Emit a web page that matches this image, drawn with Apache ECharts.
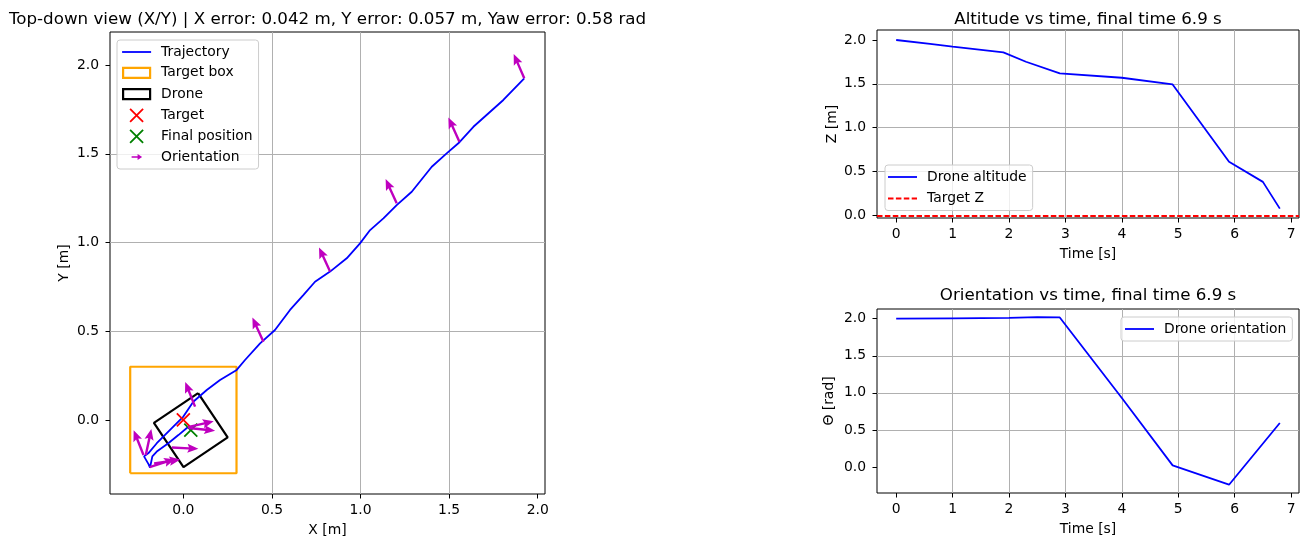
<!DOCTYPE html>
<html>
<head>
<meta charset="utf-8">
<script src="https://cdn.jsdelivr.net/npm/echarts@6/dist/echarts.min.js"></script>
<style>
  html, body { margin: 0; padding: 0; background: #fff; }
  #main { width: 1309px; height: 547px; }
</style>
</head>
<body>
<div id="main"></div>
<script>
// top-down trajectory (m)
var trajX = [1.924, 1.806, 1.637, 1.552, 1.486, 1.402, 1.289, 1.204, 1.129, 1.054, 0.997, 0.922, 0.828, 0.743, 0.677, 0.602, 0.517, 0.433, 0.348, 0.301, 0.207, 0.132, 0.056, 0.0, -0.075, -0.150, -0.198, -0.222, -0.212, -0.196, -0.188, -0.195, -0.184, -0.175, -0.150, -0.085, -0.028, 0.028, 0.042];
var trajY = [1.925, 1.803, 1.652, 1.559, 1.502, 1.427, 1.286, 1.211, 1.136, 1.070, 0.995, 0.911, 0.836, 0.779, 0.704, 0.620, 0.507, 0.432, 0.338, 0.282, 0.225, 0.169, 0.103, 0.019, -0.056, -0.131, -0.188, -0.205, -0.215, -0.250, -0.268, -0.262, -0.270, -0.205, -0.178, -0.131, -0.085, -0.038, -0.057];

// orientation arrows: base (m) and yaw (rad)
var arrowX = [1.924, 1.558, 1.204, 0.828, 0.452, 0.066, -0.225, -0.212, -0.190, -0.165, -0.065, 0.025, 0.030];
var arrowY = [1.925, 1.568, 1.221, 0.836, 0.441, 0.075, -0.197, -0.197, -0.265, -0.245, -0.155, -0.040, -0.045];
var arrowYaw = [1.98, 2.0, 2.0, 2.0, 2.0, 1.95, 1.95, 1.36, 0.30, 0.15, -0.05, 0.22, -0.10];
var arrowLen = 0.15;

var target = [0, 0];
var targetHalf = 0.3;
var finalPos = [0.042, -0.057];
var finalYaw = 0.59;
var droneHalf = 0.15;
var errX = 0.042, errY = 0.057, errYaw = 0.58;
var finalTime = 6.9;

// altitude vs time
var altT = [0, 0.6, 1.0, 1.9, 2.3, 2.9, 4.0, 4.9, 5.9, 6.5, 6.8];
var altZ = [2.0, 1.955, 1.925, 1.859, 1.752, 1.619, 1.569, 1.493, 0.610, 0.381, 0.076];
var targetZ = 0.0;

// orientation vs time
var yawT = [0, 1.0, 2.0, 2.5, 2.9, 4.0, 4.9, 5.9, 6.8];
var yawV = [2.0, 2.005, 2.012, 2.022, 2.017, 0.93, 0.022, -0.239, 0.593];

// tick values
var xyTicks = [0, 0.5, 1.0, 1.5, 2.0];
var timeTicks = [0, 1, 2, 3, 4, 5, 6, 7];

var FONT = 'DejaVu Sans';
var FS = 13.9;

function zip(a, b) { return a.map(function (v, i) { return [v, b[i]]; }); }

var targetBox = [[-1, -1], [1, -1], [1, 1], [-1, 1], [-1, -1]].map(function (c) {
  return [target[0] + c[0] * targetHalf, target[1] + c[1] * targetHalf];
});
var droneBox = [0, 1, 2, 3, 4].map(function (k) {
  var a = finalYaw + Math.PI / 4 + k * Math.PI / 2;
  var r = droneHalf * Math.SQRT2;
  return [finalPos[0] + r * Math.cos(a), finalPos[1] + r * Math.sin(a)];
});
var arrows = arrowX.map(function (x, i) { return [x, arrowY[i], arrowYaw[i]]; });

function renderArrow(params, api) {
  var x = api.value(0), y = api.value(1), a = api.value(2);
  var p0 = api.coord([x, y]);
  var p1 = api.coord([x + arrowLen * Math.cos(a), y + arrowLen * Math.sin(a)]);
  var dx = p1[0] - p0[0], dy = p1[1] - p0[1];
  var L = Math.sqrt(dx * dx + dy * dy);
  var ux = dx / L, uy = dy / L, nx = -uy, ny = ux;
  var sw = 1.2, hw = 4.6, hl = 11, hal = 9.5;
  function pt(al, ac) { return [p0[0] + ux * al + nx * ac, p0[1] + uy * al + ny * ac]; }
  return {
    type: 'polygon',
    shape: { points: [pt(0, -sw), pt(L - hal, -sw), pt(L - hl, -hw), pt(L, 0), pt(L - hl, hw), pt(L - hal, sw), pt(0, sw)] },
    style: { fill: '#bf00bf' }
  };
}

function axis(gi, min, max, name, gap, ticks, digits, isY) {
  return {
    type: 'value', gridIndex: gi, min: min, max: max,
    name: name, nameLocation: 'middle', nameGap: gap,
    nameTextStyle: { color: '#000', fontSize: FS, fontFamily: FONT },
    axisLine: { show: false, onZero: false },
    axisTick: { show: true, inside: false, length: 4.5, customValues: ticks, lineStyle: { color: '#000', width: 1 } },
    axisLabel: { color: '#000', fontSize: FS, fontFamily: FONT, margin: isY ? 11 : 9, customValues: ticks,
      formatter: function (v) { return (+v + 0).toFixed(digits); } },
    splitLine: { show: true, showMinLine: false, showMaxLine: false, lineStyle: { color: '#b0b0b0', width: 1 } }
  };
}

var XSYM = 'path://M0,0L10,10M10,0L0,10';
var XICON = 'path://M0,0M29,13M8,0L21,13M21,0L8,13';
var RECT = 'path://M0,0M29,13M1,1.5L28,1.5L28,11.5L1,11.5Z';
var LINEICON = 'path://M0,0M29,13M0,5.6L29,5.6L29,7.4L0,7.4Z';
var DASHICON = 'path://M0,0M29,13M0,5.6L5.5,5.6L5.5,7.4L0,7.4ZM7.9,5.6L13.4,5.6L13.4,7.4L7.9,7.4ZM15.8,5.6L21.3,5.6L21.3,7.4L15.8,7.4ZM23.7,5.6L29,5.6L29,7.4L23.7,7.4Z';
var ARROWICON = 'path://M0,0M29,13M9.5,5.8L15.5,5.8L15.5,3.5L20,6.5L15.5,9.5L15.5,7.2L9.5,7.2Z';

var legendBase = {
  orient: 'vertical', itemWidth: 29, itemHeight: 13, itemGap: 6.2,
  backgroundColor: 'rgba(255,255,255,0.8)', borderColor: '#cccccc', borderWidth: 1, borderRadius: 3,
  selectedMode: false,
  textStyle: { color: '#000', fontSize: FS, fontFamily: FONT, lineHeight: 13, padding: [0, 0, 0, 5] }
};
function legend(o) { return Object.assign({}, legendBase, o); }
var noFill = 'rgba(0,0,0,0)';

var chart = echarts.init(document.getElementById('main'), null, { renderer: 'canvas' });
chart.setOption({
  animation: false,
  textStyle: { fontFamily: FONT },
  title: [
    { text: 'Top-down view (X/Y) | X error: ' + errX.toFixed(3) + ' m, Y error: ' + errY.toFixed(3) + ' m, Yaw error: ' + errYaw.toFixed(2) + ' rad',
      left: 327.5, top: 11, textAlign: 'center', padding: 0,
      textStyle: { fontSize: 16.7, fontWeight: 'normal', color: '#000', fontFamily: FONT } },
    { text: 'Altitude vs time, final time ' + finalTime.toFixed(1) + ' s',
      left: 1088, top: 11, textAlign: 'center', padding: 0,
      textStyle: { fontSize: 16.7, fontWeight: 'normal', color: '#000', fontFamily: FONT } },
    { text: 'Orientation vs time, final time ' + finalTime.toFixed(1) + ' s',
      left: 1088, top: 287, textAlign: 'center', padding: 0,
      textStyle: { fontSize: 16.7, fontWeight: 'normal', color: '#000', fontFamily: FONT } }
  ],
  legend: [
    legend({ left: 117, top: 40, padding: [5, 6, 5, 4],
      data: [
        { name: 'Trajectory', icon: LINEICON, itemStyle: { color: '#0000ff', borderWidth: 0 } },
        { name: 'Target box', icon: RECT, itemStyle: { color: noFill, borderColor: '#ffa500', borderWidth: 2.2 } },
        { name: 'Drone', icon: RECT, itemStyle: { color: noFill, borderColor: '#000', borderWidth: 2.2 } },
        { name: 'Target', icon: XICON, itemStyle: { color: noFill, borderColor: '#ff0000', borderWidth: 1.8 } },
        { name: 'Final position', icon: XICON, itemStyle: { color: noFill, borderColor: '#008000', borderWidth: 1.8 } },
        { name: 'Orientation', icon: ARROWICON, itemStyle: { color: '#bf00bf', borderWidth: 0 } }
      ] }),
    legend({ left: 885, top: 165, padding: [5, 6, 5, 3], itemGap: 7.5,
      data: [
        { name: 'Drone altitude', icon: LINEICON, itemStyle: { color: '#0000ff', borderWidth: 0 } },
        { name: 'Target Z', icon: DASHICON, itemStyle: { color: '#ff0000', borderWidth: 0 } }
      ] }),
    legend({ left: 1121, top: 317, padding: [5, 6, 5, 4],
      data: [{ name: 'Drone orientation', icon: LINEICON, itemStyle: { color: '#0000ff', borderWidth: 0 } }] })
  ],
  grid: [
    { left: 110, top: 32, width: 435, height: 462, show: true, borderColor: '#000', borderWidth: 1, backgroundColor: 'transparent' },
    { left: 877, top: 30, width: 422, height: 188, show: true, borderColor: '#000', borderWidth: 1, backgroundColor: 'transparent' },
    { left: 877, top: 309, width: 422, height: 184, show: true, borderColor: '#000', borderWidth: 1, backgroundColor: 'transparent' }
  ],
  xAxis: [
    axis(0, -0.414, 2.041, 'X [m]', 29, xyTicks, 1, false),
    axis(1, -0.34, 7.14, 'Time [s]', 29, timeTicks, 0, false),
    axis(2, -0.34, 7.14, 'Time [s]', 29, timeTicks, 0, false)
  ],
  yAxis: [
    axis(0, -0.417, 2.186, 'Y [m]', 39, xyTicks, 1, true),
    axis(1, -0.031, 2.114, 'Z [m]', 38, xyTicks, 1, true),
    axis(2, -0.351, 2.131, 'Θ [rad]', 41, xyTicks, 1, true)
  ],
  series: [
    { name: 'Trajectory', type: 'line', xAxisIndex: 0, yAxisIndex: 0, data: zip(trajX, trajY),
      symbol: 'none', color: '#0000ff', lineStyle: { color: '#0000ff', width: 1.8 }, z: 3 },
    { name: 'Target box', type: 'line', xAxisIndex: 0, yAxisIndex: 0, data: targetBox,
      symbol: 'none', color: '#ffa500', lineStyle: { color: '#ffa500', width: 2.2 }, z: 2 },
    { name: 'Drone', type: 'line', xAxisIndex: 0, yAxisIndex: 0, data: droneBox,
      symbol: 'none', color: '#000', lineStyle: { color: '#000', width: 2.2 }, z: 2 },
    { name: 'Target', type: 'scatter', xAxisIndex: 0, yAxisIndex: 0, data: [target],
      symbol: XSYM, symbolSize: 13, itemStyle: { color: '#ff0000', borderColor: '#ff0000', borderWidth: 1.8, opacity: 1 }, z: 4 },
    { name: 'Final position', type: 'scatter', xAxisIndex: 0, yAxisIndex: 0, data: [finalPos],
      symbol: XSYM, symbolSize: 13, itemStyle: { color: '#008000', borderColor: '#008000', borderWidth: 1.8, opacity: 1 }, z: 4 },
    { name: 'Orientation', type: 'custom', xAxisIndex: 0, yAxisIndex: 0, data: arrows,
      encode: { x: 0, y: 1 }, renderItem: renderArrow, itemStyle: { color: '#bf00bf' }, z: 5 },
    { name: 'Drone altitude', type: 'line', xAxisIndex: 1, yAxisIndex: 1, data: zip(altT, altZ),
      symbol: 'none', color: '#0000ff', lineStyle: { color: '#0000ff', width: 1.8 } },
    { name: 'Target Z', type: 'line', xAxisIndex: 1, yAxisIndex: 1, data: [],
      symbol: 'none', color: '#ff0000', lineStyle: { color: '#ff0000', width: 1.8, type: [5.5, 2.4] },
      markLine: { silent: true, symbol: ['none', 'none'], label: { show: false },
        lineStyle: { color: '#ff0000', width: 1.8, type: [5.5, 2.4] }, data: [{ yAxis: targetZ }] } },
    { name: 'Drone orientation', type: 'line', xAxisIndex: 2, yAxisIndex: 2, data: zip(yawT, yawV),
      symbol: 'none', color: '#0000ff', lineStyle: { color: '#0000ff', width: 1.8 } }
  ]
});
</script>
</body>
</html>
